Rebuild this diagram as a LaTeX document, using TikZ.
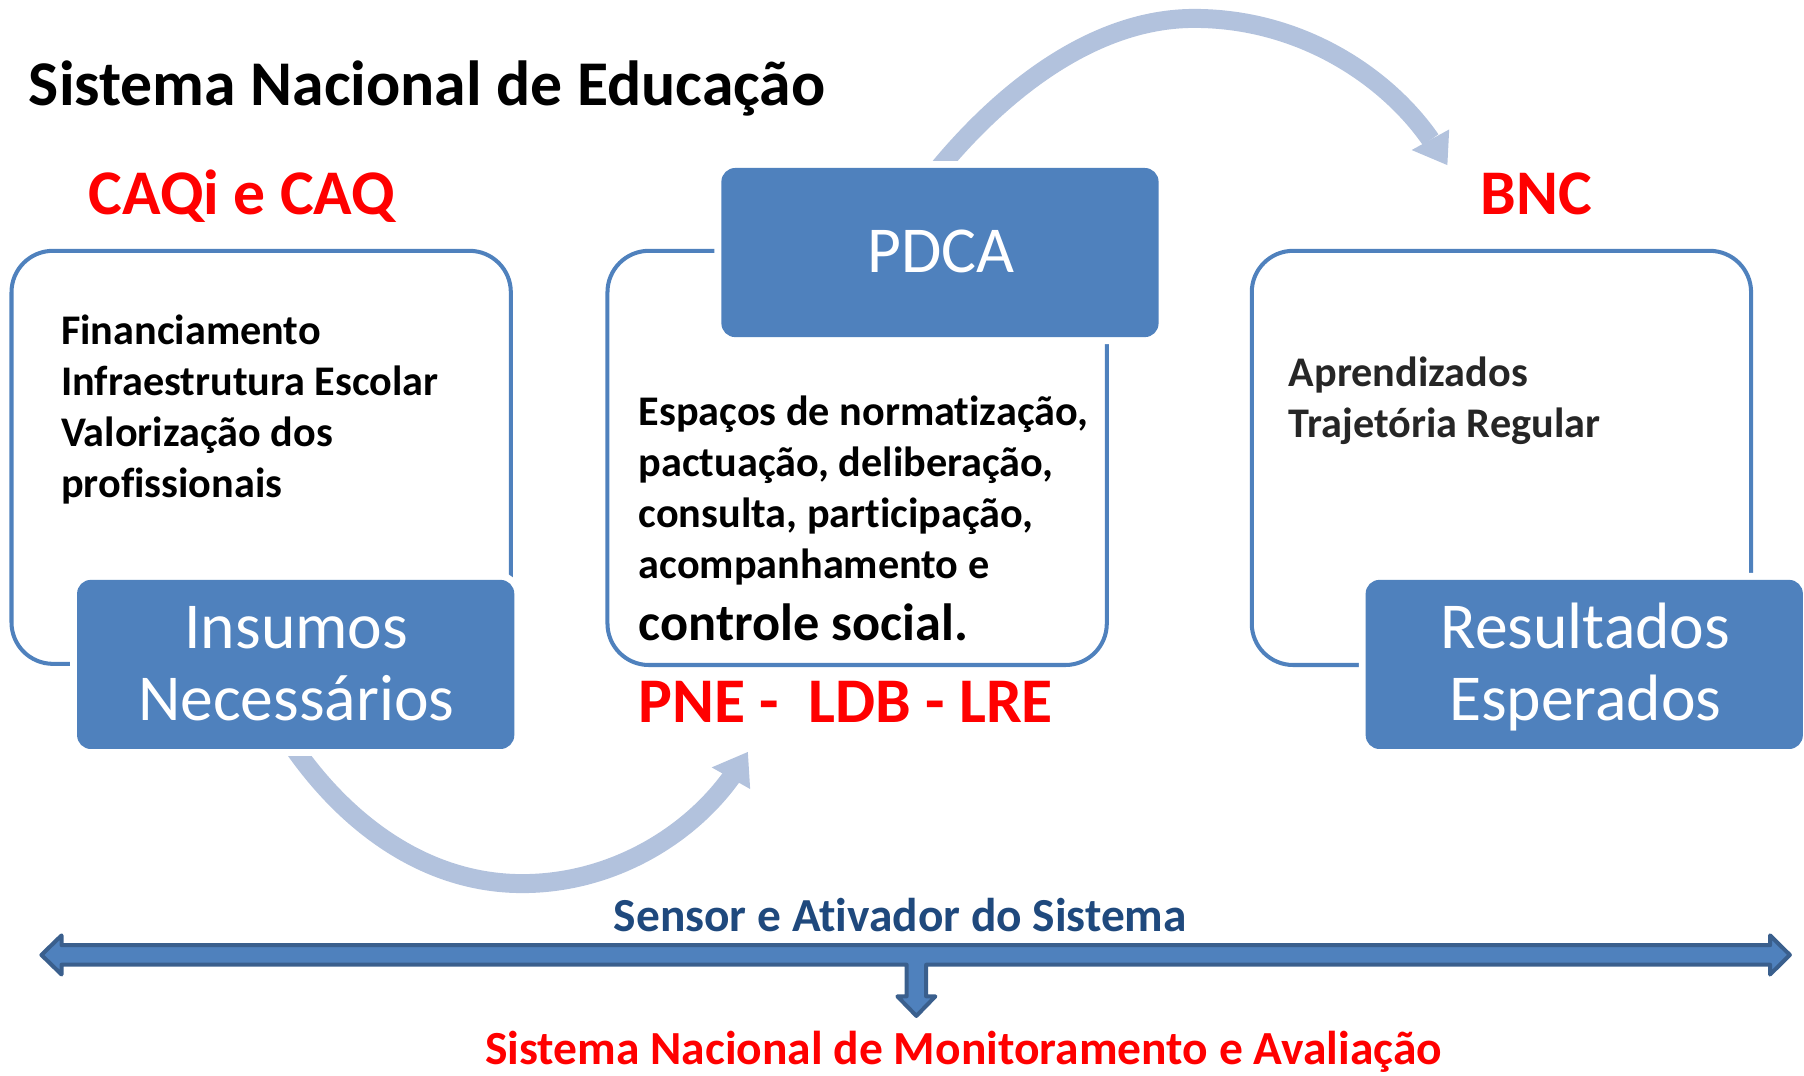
\documentclass[tikz,border=0pt]{standalone}
\usepackage{fontspec}
\setmainfont{Carlito}[Ligatures=NoCommon]
\definecolor{boxblue}{HTML}{4F81BD}
\definecolor{arcblue}{HTML}{B2C2DD}
\definecolor{arrowedge}{HTML}{3A5F8D}
\definecolor{sensorblue}{HTML}{1F497D}
\definecolor{darktext}{HTML}{262626}
\newcommand\setfs[2]{\fontsize{#1pt}{#2pt}\selectfont}
\tikzset{
  outlinebox/.style={draw=boxblue, line width=3.5pt, rounded corners=36pt},
  bluebox/.style={rectangle, rounded corners=12pt, fill=boxblue, draw=none,
    minimum width=380pt, minimum height=147pt, inner sep=0pt,
    preaction={draw=white, line width=12pt}},
  boxlabel/.style={anchor=base, inner sep=0pt, text=white, font=\setfs{57}{62}},
  bodytext/.style={anchor=base west, inner sep=0pt, font=\bfseries\setfs{36.7}{44.5}},
  redhead/.style={anchor=base west, inner sep=0pt, text=red, font=\bfseries\setfs{55.3}{66}},
  arcband/.style={draw=arcblue, line width=16.5pt},
  arctip/.style={fill=arcblue, draw=none},
}
\begin{document}
\begin{tikzpicture}[x=1pt,y=-1pt]
\useasboundingbox (0,0) rectangle (1568,935);

% curved arrows (drawn first, under the boxes)
\coordinate (lowS) at (252,645);
\coordinate (lowE) at (636,675);
\coordinate (lowT) at (650,653.6);
\draw[arcband] (lowS) .. controls (300,716) and (370,768) .. (454,768)
  .. controls (530,768) and (598,728) .. (lowE);
\fill[arctip] (618.6,667) -- (lowT) -- (652,685.8) -- cycle;

\coordinate (topS) at (813,150);
\coordinate (topE) at (1243.5,121.5);
\coordinate (topT) at (1258,143.5);
\draw[arcband] (topS) .. controls (870,80) and (950,16) .. (1038,16)
  .. controls (1130,16) and (1205,66) .. (topE);
\fill[arctip] (1227,130.4) -- (topT) -- (1259.6,112.5) -- cycle;

% outline boxes
\draw[outlinebox] (10,218) rectangle (444,577);
\draw[outlinebox] (528,218) rectangle (962,578);
\draw[outlinebox] (1088,218) rectangle (1522,578);

% filled boxes
\node[bluebox] (insumos) at (257,577.5) {};
\node[bluebox] (pdca) at (817,219.5) {};
\node[bluebox] (resultados) at (1377,577.5) {};

\node[boxlabel] (insA) at (257.5,564) {Insumos};
\node[boxlabel] (insB) at (257.5,626) {Necessários};
\node[boxlabel] (pdcaL) at (818,237) {PDCA};
\node[boxlabel] (resA) at (1378,564) {Resultados};
\node[boxlabel] (resB) at (1378,626) {Esperados};

% headings
\node[anchor=base west, inner sep=0pt, font=\bfseries\setfs{55.4}{66}] (title) at (25,92) {Sistema Nacional de Educação};
\node[redhead] (caq) at (77,186) {CAQi e CAQ};
\node[redhead] (bnc) at (1287,186) {BNC};
\node[redhead] (pne) at (555,628) {PNE -\ \ LDB - LRE};

% box texts
\node[bodytext] (l1) at (53,299) {Financiamento};
\node[bodytext] (l2) at (53,343.5) {Infraestrutura Escolar};
\node[bodytext] (l3) at (53,388) {Valorização dos};
\node[bodytext] (l4) at (53,432) {profissionais};

\node[bodytext] (m1) at (555,370) {Espaços de normatização,};
\node[bodytext] (m2) at (555,414.5) {pactuação, deliberação,};
\node[bodytext] (m3) at (555,458.5) {consulta, participação,};
\node[bodytext] (m4) at (555,502.5) {acompanhamento e};
\node[bodytext, font=\bfseries\setfs{45.5}{55}] (m5) at (555,557) {controle social.};

\node[bodytext, text=darktext] (r1) at (1120,336) {Aprendizados};
\node[bodytext, text=darktext] (r2) at (1120,380) {Trajetória Regular};

% bottom double arrow with down branch
\draw[fill=boxblue, draw=arrowedge, line width=3.5pt, line join=round]
  (36,830) -- (53.5,813) -- (53.5,821.5) -- (1538.5,821.5) -- (1538.5,813)
  -- (1555.7,830) -- (1538.5,847) -- (1538.5,838.5) -- (805,838.5)
  -- (805,866) -- (813,866) -- (796.5,883) -- (780,866) -- (788,866)
  -- (788,838.5) -- (53.5,838.5) -- (53.5,847) -- cycle;

\node[anchor=base, inner sep=0pt, text=sensorblue, font=\bfseries\setfs{41.2}{50}] (sensor) at (782.5,810) {Sensor e Ativador do Sistema};
\node[anchor=base, inner sep=0pt, text=red, font=\bfseries\setfs{41.3}{50}] (snma) at (837.5,925) {Sistema Nacional de Monitoramento e Avaliação};
\end{tikzpicture}
\end{document}
